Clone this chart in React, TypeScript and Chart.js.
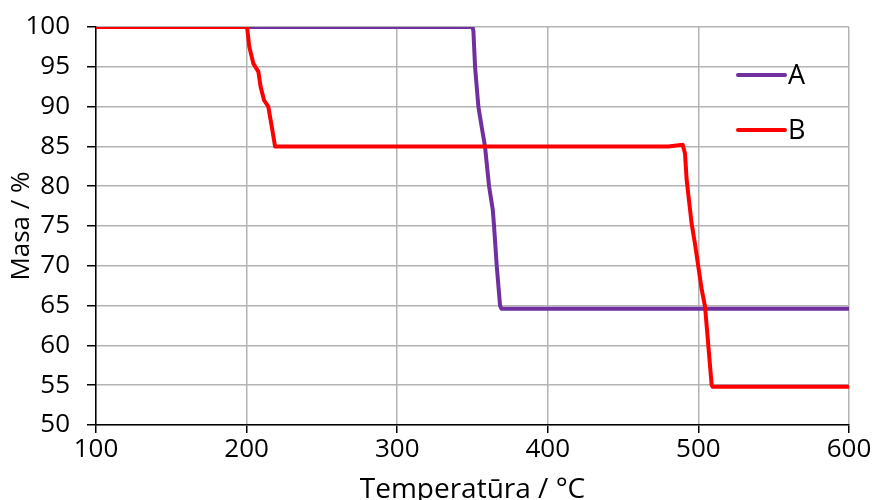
import React, { useEffect, useRef } from "react";
import { Chart, registerables } from "chart.js";

Chart.register(...registerables);

// Series A (purple)
const tempA = [100, 350, 350.6, 351.7, 353.9, 356.5, 358.3, 361, 363.5, 364.3, 366.1, 368.3, 369.3, 600];
const massA = [100, 100, 99.5, 95, 90, 87, 85, 80, 77, 75, 70, 65, 64.6, 64.6];

// Series B (red)
const tempB = [100, 200.3, 201.8, 204.5, 207.8, 209.3, 211.6, 214.4, 216.7, 218.9, 480, 489.6, 491.1, 492.2, 495.5, 497.7, 502.2, 504.4, 508.8, 509.5, 600];
const massB = [100, 100, 97.5, 95.4, 94.4, 92.5, 90.8, 90, 87.5, 85, 85, 85.2, 84.1, 80.8, 75.3, 72.8, 67, 64.9, 55, 54.8, 54.8];

const seriesLabels = ["A", "B"];
const seriesColors = ["#7030A0", "#FF0000"];

const xMin = 100, xMax = 600, xStep = 100;
const yMin = 50, yMax = 100, yStep = 5;
const xTitle = "Temperatūra / °C";
const yTitle = "Masa / %";

const FONT = "'Open Sans', sans-serif";

const legendPlugin = {
  id: "insideLegend",
  afterDatasetsDraw(chart: any) {
    const ctx = chart.ctx;
    const rows = [75, 130];
    chart.data.datasets.forEach((ds: any, i: number) => {
      const y = rows[i];
      ctx.save();
      ctx.strokeStyle = ds.borderColor;
      ctx.lineWidth = 4;
      ctx.lineCap = "round";
      ctx.beginPath();
      ctx.moveTo(738, y);
      ctx.lineTo(785, y);
      ctx.stroke();
      ctx.fillStyle = "#000";
      ctx.font = `27px ${FONT}`;
      ctx.textBaseline = "middle";
      ctx.textAlign = "left";
      ctx.fillText(ds.label, 788, y + 1);
      ctx.restore();
    });
  },
};

export default function App() {
  const ref = useRef<HTMLCanvasElement | null>(null);
  useEffect(() => {
    if (!ref.current) return;
    const mk = (xs: number[], ys: number[]) => xs.map((x, i) => ({ x, y: ys[i] }));
    const chart = new Chart(ref.current, {
      type: "line",
      data: {
        datasets: [
          {
            label: seriesLabels[0],
            data: mk(tempA, massA),
            borderColor: seriesColors[0],
            backgroundColor: seriesColors[0],
            borderWidth: 4,
            pointRadius: 0,
            tension: 0,
            borderJoinStyle: "round",
            order: 1,
          },
          {
            label: seriesLabels[1],
            data: mk(tempB, massB),
            borderColor: seriesColors[1],
            backgroundColor: seriesColors[1],
            borderWidth: 4,
            pointRadius: 0,
            tension: 0,
            borderJoinStyle: "round",
            order: 0,
          },
        ],
      },
      options: {
        animation: false,
        responsive: false,
        layout: { padding: { top: 27, right: 23, left: 0, bottom: 0 } },
        plugins: {
          legend: { display: false },
          tooltip: { enabled: false },
        },
        scales: {
          x: {
            type: "linear",
            min: xMin,
            max: xMax,
            ticks: {
              stepSize: xStep,
              color: "#000",
              font: { family: FONT, size: 26 },
              padding: 1,
              maxRotation: 0,
            },
            grid: { color: "#b4b4b4", lineWidth: 1.5, tickColor: "#000", tickLength: 8 },
            border: { color: "#000", width: 1.5 },
            title: {
              display: true,
              text: xTitle,
              color: "#000",
              font: { family: FONT, size: 28, lineHeight: 1 },
              padding: { top: 0, bottom: -4 },
            },
            afterFit: (s: any) => {
              s.height = 75;
              s.paddingLeft = 0;
              s.paddingRight = 0;
            },
          },
          y: {
            type: "linear",
            min: yMin,
            max: yMax,
            ticks: {
              stepSize: yStep,
              color: "#000",
              font: { family: FONT, size: 26 },
              padding: 17,
            },
            grid: { color: "#b4b4b4", lineWidth: 1.5, tickColor: "#000", tickLength: 9 },
            border: { color: "#000", width: 1.5 },
            title: {
              display: true,
              text: yTitle,
              color: "#000",
              font: { family: FONT, size: 26, lineHeight: 1 },
              padding: { top: 9, bottom: 0 },
            },
            afterFit: (s: any) => {
              s.width = 96;
              s.paddingTop = 0;
              s.paddingBottom = 0;
            },
          },
        },
      },
      plugins: [legendPlugin],
    } as any);
    return () => chart.destroy();
  }, []);
  return (
    <div style={{ position: "absolute", left: 0, top: 0, width: 872, height: 500, background: "#fff" }}>
      <canvas ref={ref} width={872} height={500} />
    </div>
  );
}
